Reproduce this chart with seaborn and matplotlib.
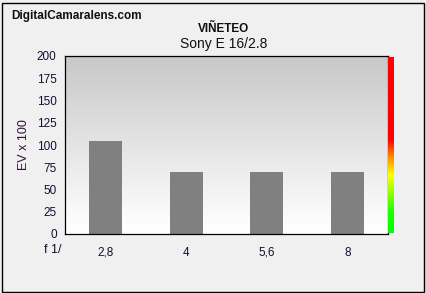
import numpy as np
import matplotlib
matplotlib.use("Agg")
import matplotlib.pyplot as plt
import seaborn as sns
import pandas as pd
from matplotlib.colors import LinearSegmentedColormap
from matplotlib.patches import Rectangle

sns.set_style("white")
plt.rcParams['font.family'] = ['Liberation Sans', 'DejaVu Sans']

categories = ["2,8", "4", "5,6", "8"]
values = [105, 70, 70, 70]
yticks = [0, 25, 50, 75, 100, 125, 150, 175, 200]

W, H = 426, 293
fig = plt.figure(figsize=(W / 100, H / 100), dpi=100, facecolor="#f0f0f0")
# outer border
fig.patches.append(Rectangle((1.5 / W, 1.5 / H), (W - 4) / W, (H - 4) / H, transform=fig.transFigure,
                             fill=False, edgecolor="black", linewidth=1.0))

L, R, T, B = 65, 388, 56, 234
ax = fig.add_axes([L / W, 1 - B / H, (R - L) / W, (B - T) / H])

# background gradient: gray top -> white bottom
grad = np.linspace(0, 1, 256).reshape(-1, 1)
bg_cmap = LinearSegmentedColormap.from_list("bg", [(0, "#ffffff"), (0.08, "#fcfcfc"), (1, "#c8c8c8")])
ax.imshow(grad, aspect="auto", cmap=bg_cmap, origin="lower",
          extent=[-0.5, len(categories) - 0.5, 0, 200], zorder=0)

df = pd.DataFrame({"cat": categories, "val": values})
sns.barplot(data=df, x="cat", y="val", color="#808080", width=0.41, saturation=1,
            ax=ax, zorder=2, edgecolor="none")
ax.set_xlim(-0.5, len(categories) - 0.5)
ax.set_ylim(0, 200)
ax.set_yticks(yticks)
ax.set_yticklabels([str(v) for v in yticks], fontsize=8.5, color="#101030")
ax.set_xticks([i - 0.5 for i in range(len(categories) + 1)], minor=False)
ax.set_xticklabels([])
ax.set_xticks(range(len(categories)), minor=True)
ax.set_xticklabels(categories, minor=True, fontsize=8.5, color="#101030")
ax.tick_params(axis="x", which="major", direction="out", length=4, width=0.8, color="black")
ax.tick_params(axis="x", which="minor", length=0, pad=9)
ax.tick_params(axis="y", direction="out", length=4, width=0.8, color="black", pad=2)
ax.set_xlabel("")
ax.set_ylabel("EV x 100", fontsize=9, color="#30103a", labelpad=5)
for s in ax.spines.values():
    s.set_color("black")
    s.set_linewidth(0.9)

# colour bar on the right
cax = fig.add_axes([388 / W, 1 - 233 / H, 6 / W, (233 - 57) / H])
cb_cmap = LinearSegmentedColormap.from_list(
    "cb", [(0.0, "#00ff00"), (0.12, "#20ff00"), (0.33, "#ffff00"), (0.44, "#ff8000"),
           (0.53, "#ff0000"), (1.0, "#ff0000")])
cax.imshow(grad, aspect="auto", cmap=cb_cmap, origin="lower", extent=[0, 1, 0, 1])
cax.set_axis_off()

fig.text(11 / W, 1 - 16 / H, "DigitalCamaralens.com", fontsize=8.5, fontweight="bold",
         color="#101010", ha="left", va="center")
fig.text(224 / W, 1 - 29 / H, "VIÑETEO", fontsize=8.5, fontweight="bold", color="#101010",
         ha="center", va="center")
fig.text(224 / W, 1 - 44 / H, "Sony E 16/2.8", fontsize=10, color="#101010",
         ha="center", va="center")
fig.text(53 / W, 1 - 250 / H, "f 1/", fontsize=9, color="#101030", ha="center", va="center")

fig.savefig("out.png", dpi=100, facecolor=fig.get_facecolor())
